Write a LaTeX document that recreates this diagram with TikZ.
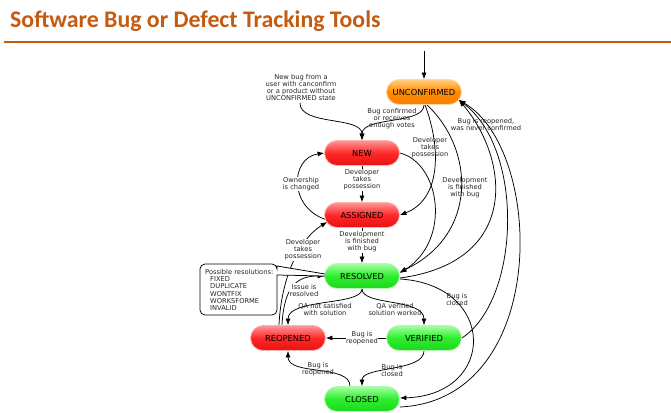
\documentclass[tikz,border=0pt]{standalone}
\usepackage{fontspec}
\setmainfont{DejaVu Sans}
\newfontfamily\titlefont{Carlito}
\usetikzlibrary{arrows.meta,backgrounds}
\definecolor{titleor}{RGB}{197,90,17}
\definecolor{orTop}{RGB}{255,205,130}
\definecolor{orMid}{RGB}{255,140,0}
\definecolor{orBot}{RGB}{248,128,8}
\definecolor{rdTop}{RGB}{255,150,150}
\definecolor{rdMid}{RGB}{255,40,40}
\definecolor{rdBot}{RGB}{232,18,18}
\definecolor{gnTop}{RGB}{165,255,165}
\definecolor{gnMid}{RGB}{45,238,45}
\definecolor{gnBot}{RGB}{30,215,30}
\begin{document}
\begin{tikzpicture}[x=1pt,y=-1pt,
  state/.style={rectangle, rounded corners=12.5pt, minimum width=75pt, minimum height=25pt,
    inner sep=0pt, font=\fontsize{8.3}{10}\selectfont, line width=0.8pt},
  orst/.style={state, top color=orTop, bottom color=orBot, middle color=orMid, draw=orMid!35},
  rdst/.style={state, top color=rdTop, bottom color=rdBot, middle color=rdMid, draw=rdMid!35},
  gnst/.style={state, top color=gnTop, bottom color=gnBot, middle color=gnMid, draw=gnMid!35},
  lbl/.style={font=\fontsize{6.7}{7}\selectfont, align=center, inner sep=0.5pt, text=black!85},
  lblw/.style={lbl, fill=white},
  arr/.style={-{Latex[length=6.5pt,width=5pt]}, line width=0.75pt},
  box/.style={line width=0.75pt}
]
\useasboundingbox (0,0) rectangle (671,412);
% title
\node[anchor=base west, inner sep=0pt, text=titleor,
  font=\titlefont\bfseries\fontsize{23.8}{24}\selectfont] (title) at (10,28) {Software Bug or Defect Tracking Tools};
\coordinate (rulel) at (4,42);
\coordinate (ruler) at (671,42);
\draw[titleor, line width=2.2pt] (rulel) -- (ruler);

% states
\node[orst] (unc) at (424,92) {UNCONFIRMED};
\node[rdst] (new) at (362,153) {NEW};
\node[rdst] (asg) at (362,215) {ASSIGNED};
\node[gnst] (res) at (362,276) {RESOLVED};
\node[rdst] (reo) at (288,338) {REOPENED};
\node[gnst] (ver) at (424,338) {VERIFIED};
\node[gnst] (clo) at (362,399) {CLOSED};

\coordinate (start) at (424,51);
\coordinate (nbfrom) at (300,103);
\coordinate (ptipa) at (325,274);
\coordinate (ptipb) at (325,276);

\begin{scope}[on background layer]
\draw[arr] (start) -- (unc.north);
\draw[arr] (nbfrom) .. controls (300,126) and (362,116) .. (new.north);
\draw[arr] (unc.south) .. controls (424,125) and (362,116) .. (new.north);
\draw[arr] ([xshift=1pt]unc.south) .. controls (442,150) and (440,200) .. (asg.east);
\draw[arr] ([xshift=3pt]unc.south) .. controls (475,150) and (478,235) .. ([yshift=4pt]res.east);
\draw[arr] (new.east) .. controls (440,163) and (452,240) .. ([yshift=3pt]res.east);
\draw[arr] ([yshift=-2pt]res.east) .. controls (520,262) and (510,160) .. ([xshift=-3pt,yshift=-8pt]unc.east);
\draw[arr] (ver.east) .. controls (520,300) and (525,150) .. ([xshift=-3pt,yshift=-8pt]unc.east);
\draw[arr] ([yshift=-8pt]clo.east) .. controls (550,400) and (545,150) .. ([xshift=-3pt,yshift=-8pt]unc.east);
\draw[arr] ([yshift=-3pt]res.east) .. controls (497,285) and (497,395) .. ([yshift=1pt]clo.east);
\draw[arr] (new.south) -- (asg.north);
\draw[arr] (asg.south) -- (res.north);
\draw[arr] ([xshift=3pt,yshift=-5pt]asg.west) .. controls (288,208) and (290,158) .. (new.west);
\draw[arr] ([xshift=-9pt]reo.north) .. controls (281,280) and (298,240) .. ([xshift=3pt,yshift=-7pt]asg.west);
\draw[arr] ([xshift=-6pt]reo.north) .. controls (284,285) and (298,276) .. (res.west);
\draw[arr] (res.south) .. controls (362,306) and (288,298) .. (reo.north);
\draw[arr] (res.south) .. controls (362,306) and (424,298) .. (ver.north);
\draw[arr] (ver.west) -- (reo.east);
\draw[arr] (ver.south) .. controls (424,372) and (362,366) .. (clo.north);
\draw[arr] ([xshift=-12pt]clo.north) .. controls (350,364) and (288,376) .. (reo.south);
\end{scope}

% resolutions callout
\draw[box, fill=white] (ptipb) -- (277,275) [rounded corners=5pt] -- (277,315) -- (200,315) -- (200,264) -- (277,264) [sharp corners] -- (277,266) -- (ptipa);
\node[lbl, align=left, anchor=west, font=\fontsize{6.7}{7.2}\selectfont] (resl) at (204.5,290)
  {Possible resolutions:\\\hspace*{5pt}FIXED\\\hspace*{5pt}DUPLICATE\\\hspace*{5pt}WONTFIX\\\hspace*{5pt}WORKSFORME\\\hspace*{5pt}INVALID};

% labels
\node[lbl] (l1) at (301,88) {New bug from a\\user with canconfirm\\or a product without\\UNCONFIRMED state};
\node[lbl] (l2) at (392,119) {Bug confirmed\\or receives\\enough votes};
\node[lbl] (l3) at (430,148) {Developer\\takes\\possession};
\node[lbl] (l4) at (465,188) {Development\\is finished\\with bug};
\node[lbl] (l5) at (486,125) {Bug is reopened,\\was never confirmed};
\node[lblw] (l6) at (301,184) {Ownership\\is changed};
\node[lblw] (l7) at (362,180) {Developer\\takes\\possession};
\node[lblw] (l8) at (362,242) {Development\\is finished\\with bug};
\node[lblw] (l9) at (303,250) {Developer\\takes\\possession};
\node[lblw] (l10) at (304,290) {Issue is\\resolved};
\node[lbl] (l11) at (325,309) {QA not satisfied\\with solution};
\node[lbl] (l12) at (395,309) {QA verified\\solution worked};
\node[lblw] (l13) at (362,338) {Bug is\\reopened};
\node[lbl] (l14) at (392,370) {Bug is\\closed};
\node[lbl] (l15) at (318,369) {Bug is\\reopened};
\node[lbl] (l16) at (457,299) {Bug is\\closed};
\end{tikzpicture}
\end{document}
